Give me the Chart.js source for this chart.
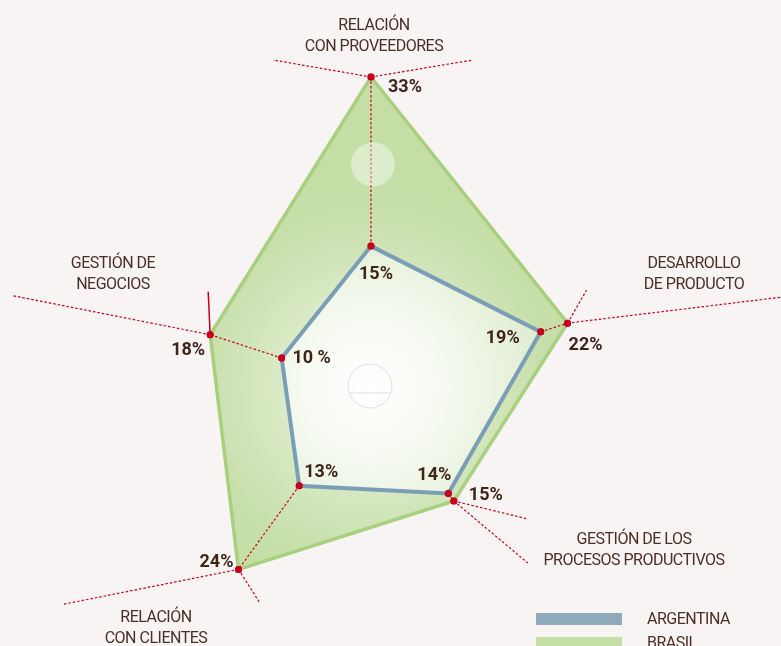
<!DOCTYPE html>
<html lang="es">
<head>
<meta charset="utf-8">
<script src="https://cdn.jsdelivr.net/npm/chart.js@4.4.1/dist/chart.umd.min.js"></script>
<style>
    html, body {
        margin: 0;
        padding: 0;
        width: 781px;
        height: 646px;
        overflow: hidden;
        background: #f8f4f3;
    }

    #contenedor {
        position: absolute;
        left: 0;
        top: 0;
        width: 781px;
        height: 700px;
    }

    .etiqueta {
        position: absolute;
        font-family: Roboto, sans-serif;
        font-size: 16px;
        line-height: 21px;
        letter-spacing: -0.5px;
        color: #4a2f26;
        text-align: center;
        white-space: nowrap;
        transform: translate(-50%, -50%);
    }

    .barra {
        position: absolute;
        left: 536px;
        width: 86px;
        height: 12px;
    }

    .nombre {
        position: absolute;
        left: 647px;
        font-family: Roboto, sans-serif;
        font-size: 16px;
        line-height: 20px;
        letter-spacing: -0.5px;
        color: #4a2f26;
    }
</style>
</head>
<body>

<div id="contenedor">
    <canvas id="graficoRadar"></canvas>
</div>

<div id="etiquetas"></div>

<div class="barra" style="top:613px; background:#8eaabb;"></div>
<div class="nombre" style="top:609px;">ARGENTINA</div>
<div class="barra" style="top:637px; background:#c5dea5;"></div>
<div class="nombre" style="top:633px;">BRASIL</div>

<script>

const categorias = [
    ["RELACIÓN", "CON PROVEEDORES"],
    ["DESARROLLO", "DE PRODUCTO"],
    ["GESTIÓN DE LOS", "PROCESOS PRODUCTIVOS"],
    ["RELACIÓN", "CON CLIENTES"],
    ["GESTIÓN DE", "NEGOCIOS"]
];

const argentina = [15, 19, 14, 13, 10];
const brasil = [33, 22, 15, 24, 18];

const textosArgentina = ["15%", "19%", "14%", "13%", "10 %"];
const textosBrasil = ["33%", "22%", "15%", "24%", "18%"];

// posiciones de los textos de categoria (centro del bloque)
const posCategorias = [
    [374, 35],
    [694, 273],
    [634, 549],
    [156, 627],
    [113, 273]
];

// desplazamiento de los porcentajes respecto de cada punto
const despArgentina = [[5, 28], [-38, 7], [-14, -18], [22, -13], [30, 1]];
const despBrasil = [[34, 10], [18, 22], [32, -5], [-22, -7], [-22, 16]];

// lineas guia que salen del punto exterior [dx, dy, continua]
const guias = [
    [[-98, -17, 0], [102, -17, 0]],
    [[214, -26, 0], [19, -33, 0]],
    [[74, 18, 0], [74, 62, 0]],
    [[-176, 35, 0], [21, 33, 0]],
    [[-197, -39, 0], [-2, -43, 1]]
];

const rojo = "#c8001e";

const capa = document.getElementById("etiquetas");
categorias.forEach((c, i) => {
    const d = document.createElement("div");
    d.className = "etiqueta";
    d.style.left = posCategorias[i][0] + "px";
    d.style.top = posCategorias[i][1] + "px";
    d.innerHTML = c.join("<br>");
    capa.appendChild(d);
});

function degradado(contexto, radio, paradas) {
    const chart = contexto.chart;
    const r = chart.scales.r;
    if (!chart.chartArea || !r) {
        return paradas[paradas.length - 1][1];
    }
    const g = chart.ctx.createRadialGradient(
        r.xCenter, r.yCenter, 0,
        r.xCenter, r.yCenter, radio
    );
    paradas.forEach(p => g.addColorStop(p[0], p[1]));
    return g;
}

const decoracion = {
    id: "decoracion",
    afterDatasetsDraw(chart) {
        const ctx = chart.ctx;
        const r = chart.scales.r;
        const metaA = chart.getDatasetMeta(0);
        const metaB = chart.getDatasetMeta(1);

        ctx.save();

        // circulo tenue del centro
        ctx.strokeStyle = "#d2e3f0";
        ctx.lineWidth = 1;
        ctx.beginPath();
        ctx.arc(r.xCenter - 1, r.yCenter - 1, 22, 0, Math.PI * 2);
        ctx.stroke();
        ctx.beginPath();
        ctx.moveTo(r.xCenter - 22, r.yCenter + 6);
        ctx.lineTo(r.xCenter + 20, r.yCenter + 6);
        ctx.stroke();

        ctx.strokeStyle = rojo;
        ctx.lineWidth = 1.2;

        argentina.forEach((v, i) => {
            const a = metaA.data[i];
            const b = metaB.data[i];

            ctx.setLineDash([2.5, 2]);
            ctx.beginPath();
            ctx.moveTo(a.x, a.y);
            ctx.lineTo(b.x, b.y);
            ctx.stroke();

            guias[i].forEach(g => {
                ctx.setLineDash(g[2] ? [] : [2.5, 2]);
                ctx.lineWidth = g[2] ? 1.5 : 1.2;
                ctx.beginPath();
                ctx.moveTo(b.x, b.y);
                ctx.lineTo(b.x + g[0], b.y + g[1]);
                ctx.stroke();
            });
            ctx.lineWidth = 1.2;
        });

        // disco blanco sobre el eje superior
        const disco = r.getPointPositionForValue(0, 23.7);
        ctx.setLineDash([]);
        ctx.fillStyle = "rgba(255,255,255,0.4)";
        ctx.beginPath();
        ctx.arc(disco.x + 2, disco.y, 22, 0, Math.PI * 2);
        ctx.fill();

        // puntos rojos encima de las lineas
        metaA.data.forEach(p => p.draw(ctx, chart.chartArea));
        metaB.data.forEach(p => p.draw(ctx, chart.chartArea));

        // porcentajes
        ctx.fillStyle = "#3f2419";
        ctx.font = "bold 18px Roboto, sans-serif";
        ctx.textAlign = "center";
        ctx.textBaseline = "middle";
        metaA.data.forEach((p, i) => {
            ctx.fillText(textosArgentina[i], p.x + despArgentina[i][0], p.y + despArgentina[i][1]);
        });
        metaB.data.forEach((p, i) => {
            ctx.fillText(textosBrasil[i], p.x + despBrasil[i][0], p.y + despBrasil[i][1]);
        });

        ctx.restore();
    }
};

const ctx = document.getElementById("graficoRadar").getContext("2d");

new Chart(ctx, {

    type: "radar",

    data: {

        labels: categorias.map(c => c.join(" ")),

        datasets: [
            {
                label: "ARGENTINA",
                data: argentina,
                borderColor: "#7b9eb7",
                borderWidth: 4,
                backgroundColor: c => degradado(c, 175, [
                    [0, "#ffffff"],
                    [0.4, "#f6faf1"],
                    [1, "#e0ecd2"]
                ]),
                fill: true,
                pointRadius: 3.5,
                pointBorderWidth: 0,
                pointBackgroundColor: rojo,
                pointBorderColor: rojo
            },
            {
                label: "BRASIL",
                data: brasil,
                borderColor: "#a8d07f",
                borderWidth: 3.5,
                backgroundColor: c => degradado(c, 220, [
                    [0, "#eef5e6"],
                    [0.45, "#d8e9c4"],
                    [0.8, "#c7dfaa"],
                    [1, "#c5dea5"]
                ]),
                fill: true,
                pointRadius: 3.5,
                pointBorderWidth: 0,
                pointBackgroundColor: rojo,
                pointBorderColor: rojo
            }
        ]
    },

    options: {

        responsive: true,
        maintainAspectRatio: false,
        animation: false,

        layout: {
            padding: {
                left: 61,
                right: 100,
                top: 77,
                bottom: 3
            }
        },

        elements: {
            line: {
                tension: 0,
                borderJoinStyle: "miter"
            }
        },

        scales: {
            r: {
                min: 0,
                max: 33,
                ticks: { display: false },
                grid: { display: false },
                angleLines: { display: false },
                pointLabels: { display: false }
            }
        },

        plugins: {
            legend: { display: false },
            tooltip: { enabled: false }
        }
    },

    plugins: [decoracion]
});

</script>
</body>
</html>
